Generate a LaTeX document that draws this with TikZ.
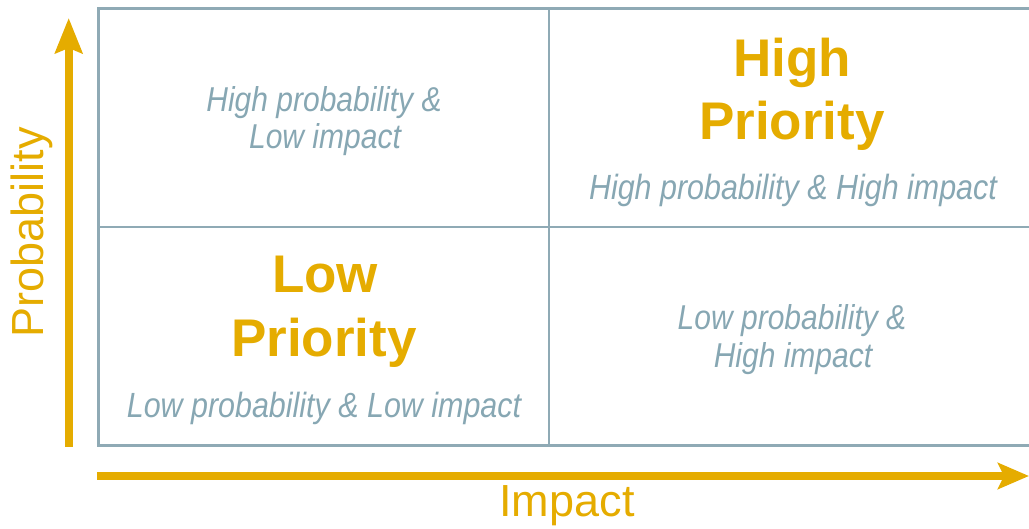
\documentclass[tikz,border=0pt]{standalone}
\usepackage{fontspec}
\setmainfont{Liberation Sans}
\newfontfamily\qfont[FakeStretch=0.87]{Liberation Sans}
\usetikzlibrary{arrows.meta}
\definecolor{gold}{RGB}{229,172,0}
\definecolor{slate}{RGB}{135,167,179}
\definecolor{gridc}{RGB}{143,170,181}
\tikzset{
  gridline/.style={draw=gridc, line width=2.6pt},
  axisarrow/.style={draw=gold, line width=8pt},
  qtext/.style={text=slate, anchor=base, inner sep=0pt, font=\qfont\itshape\fontsize{34.5}{40}\selectfont},
  prio/.style={text=gold, anchor=base, inner sep=0pt, font=\bfseries\fontsize{53}{60}\selectfont},
  axislabel/.style={text=gold, anchor=base, inner sep=0pt, font=\fontsize{45}{52}\selectfont},
}
\begin{document}
\begin{tikzpicture}[x=1pt,y=-1pt]
\useasboundingbox (0,0) rectangle (1029,529);
% grid corners
\coordinate (tl) at (98.7,8.7);
\coordinate (tr) at (1032,8.7);
\coordinate (bl) at (98.7,445.3);
\coordinate (br) at (1032,445.3);
\coordinate (mt) at (549,8.7);
\coordinate (mb) at (549,445.3);
\coordinate (ml) at (98.7,227);
\coordinate (mr) at (1032,227);
\draw[gridline] (tr) -- (tl) -- (bl) -- (br);
\draw[gridline] (mt) -- (mb);
\draw[gridline] (ml) -- (mr);
% axes
\coordinate (ys) at (68.7,447);
\coordinate (ye) at (68.7,18);
\coordinate (xs) at (97.3,476);
\coordinate (xe) at (1029,476);
\draw[axisarrow, -{Stealth[length=35pt,width=27pt,inset=5pt]}] (ys) -- (ye);
\draw[axisarrow, -{Stealth[length=31pt,width=26pt,inset=6pt]}] (xs) -- (xe);
\node[axislabel, rotate=90] (ylab) at (43,232.5) {Probability};
\node[axislabel] (xlab) at (567,516.7) {Impact};
% upper left
\node[qtext] (ul1) at (324,111.7) {High probability \&};
\node[qtext] (ul2) at (325,149) {Low impact};
% upper right
\node[prio] (hp1) at (792,76.7) {High};
\node[prio] (hp2) at (792,140) {Priority};
\node[qtext, font=\qfont\itshape\fontsize{35}{40}\selectfont] (hpd) at (793,200) {High probability \& High impact};
% lower left
\node[prio] (lp1) at (325,292.7) {Low};
\node[prio] (lp2) at (324,356.7) {Priority};
\node[qtext, font=\qfont\itshape\fontsize{35}{40}\selectfont] (lpd) at (324,418) {Low probability \& Low impact};
% lower right
\node[qtext] (lr1) at (792,330) {Low probability \&};
\node[qtext] (lr2) at (793,368) {High impact};
\end{tikzpicture}
\end{document}
